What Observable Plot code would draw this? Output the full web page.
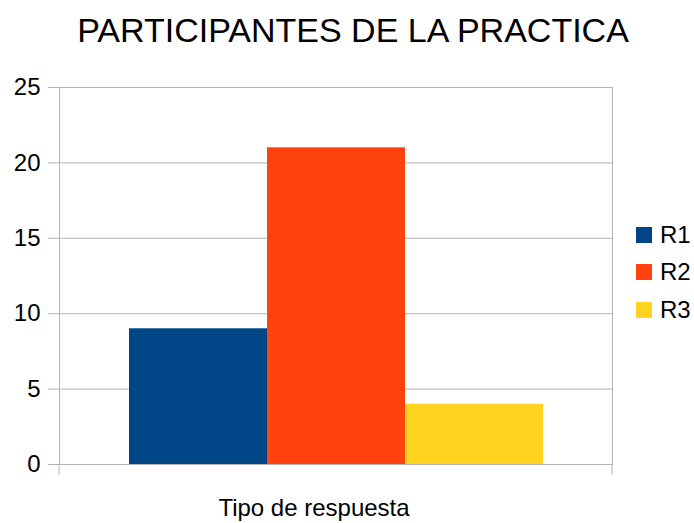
<!DOCTYPE html>
<html><head><meta charset="utf-8">
<script src="https://cdn.jsdelivr.net/npm/d3@7"></script>
<script src="https://cdn.jsdelivr.net/npm/@observablehq/plot@0.6"></script>
<style>
body{margin:0;background:#fff;font-family:"Liberation Sans",Arial,sans-serif;}
#wrap{position:relative;width:694px;height:523px;overflow:hidden;background:#fff}
#title{position:absolute;left:0;top:13px;width:706px;text-align:center;font-size:34px;line-height:1;color:#000;white-space:nowrap}
#chart{position:absolute;left:0;top:60px}
#legend{position:absolute;left:636px;top:216px}
#legend .lg-swatches{font-family:"Liberation Sans",Arial,sans-serif;font-size:24px;margin:0;color:#000}
#legend .lg-swatch{height:37.5px;padding:0;display:flex;align-items:center}
#legend .lg-swatch svg{margin-right:8px}
</style></head><body>
<div id="wrap"><div id="title"></div><div id="chart"></div><div id="legend"></div></div>
<script>
const titleText = "PARTICIPANTES DE LA PRACTICA";
const xLabel = "Tipo de respuesta";
const series = ["R1", "R2", "R3"];
const values = [9, 21, 4];
const colors = ["#004586", "#ff420e", "#ffd320"];
const yTicks = [0, 5, 10, 15, 20, 25];
const gridColor = "#b3b3b3";

document.getElementById("title").textContent = titleText;

const data = series.map((s, i) => ({series: s, value: values[i]}));

const frameTicks = (index, scales, values, dims) => {
  const g = d3.create("svg:g").attr("stroke", gridColor);
  const y0 = dims.height - dims.marginBottom;
  for (const x of [dims.marginLeft, dims.width - dims.marginRight]) {
    g.append("line").attr("x1", x).attr("x2", x).attr("y1", y0).attr("y2", y0 + 11);
  }
  return g.node();
};

const plot = Plot.plot({
  width: 694, height: 463,
  marginTop: 27, marginBottom: 59, marginLeft: 59, marginRight: 82,
  style: {fontFamily: "Liberation Sans, Arial, sans-serif", fontSize: "24px", background: "white", color: "black", overflow: "visible"},
  x: {domain: series, paddingInner: 0, paddingOuter: 0.5, axis: null},
  y: {domain: [0, 25]},
  color: {domain: series, range: colors},
  marks: [
    Plot.gridY(yTicks, {stroke: gridColor, strokeOpacity: 1}),
    Plot.axisY(yTicks, {tickSize: 11, tickPadding: 8, stroke: gridColor, strokeOpacity: 1, fill: "black", fontSize: 24, label: null}),
    Plot.barY(data, {x: "series", y: "value", fill: "series"}),
    Plot.frame({stroke: gridColor}),
    frameTicks,
    Plot.text([xLabel], {frameAnchor: "bottom", dy: 51, dx: -22, fontSize: 24, fill: "black"})
  ]
});
document.getElementById("chart").appendChild(plot);

const legend = Plot.legend({
  color: {domain: series, range: colors},
  legend: "swatches", columns: 1, swatchSize: 16, className: "lg"
});
document.getElementById("legend").appendChild(legend);
</script>
</body></html>
